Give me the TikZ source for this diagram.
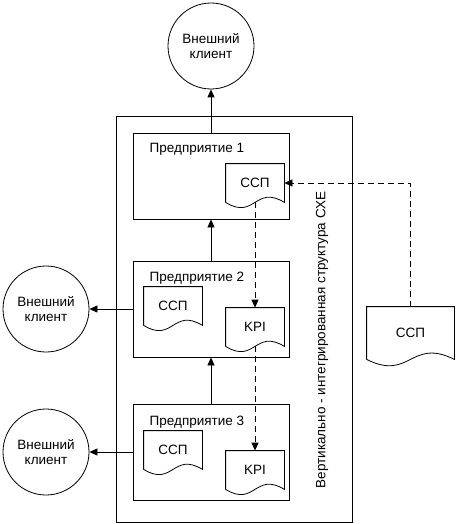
\documentclass[tikz,border=0pt]{standalone}
\usepackage{fontspec}
\setmainfont{Liberation Sans}
\usetikzlibrary{arrows.meta}

\newcommand\sheetoutline[2][18pt]{%
  \draw (#2.south west) -- (#2.north west) -- (#2.north east) -- (#2.south east)
  .. controls ([yshift=#1]#2.south) and ([yshift=-#1]#2.south) .. (#2.south west);
}

\tikzset{
  every node/.style={font=\fontsize{13.5}{15.5}\selectfont},
  client/.style={draw, circle, minimum size=86pt, inner sep=0pt, align=center},
  firm/.style={draw, rectangle, minimum width=156pt, inner sep=0pt},
  sheet/.style={rectangle, minimum width=58pt, minimum height=38pt, inner sep=0pt},
  flow/.style={-{Triangle[length=8pt,width=7pt]}},
  dataflow/.style={flow, dash pattern=on 6pt off 4pt},
}

\begin{document}
\begin{tikzpicture}[x=1pt, y=-1pt, line width=0.8pt]
    \useasboundingbox (0,0) rectangle (458,524);

    \node[draw, minimum width=236pt, minimum height=406pt, inner sep=0pt] (cxe) at (234,319) {};
    \node[rotate=90] (cxe label) at (322,340) {Вертикально - интегрированная структура СХЕ};

    \node[client] (ext1) at (211,46) {Внешний\\клиент};
    \node[client] (ext2) at (46,309) {Внешний\\клиент};
    \node[client] (ext3) at (46,452) {Внешний\\клиент};

    \node[firm, minimum height=86pt] (ent1) at (211,176) {};
    \node[firm, minimum height=96pt] (ent2) at (211,309) {};
    \node[firm, minimum height=96pt] (ent3) at (211,452) {};

    \node[anchor=west] (ent1 label) at (146,149) {Предприятие 1};
    \node[anchor=west] (ent2 label) at (146,278) {Предприятие 2};
    \node[anchor=west] (ent3 label) at (146,422) {Предприятие 3};

    \node[sheet] (ssp1) at (255,183) {ССП};
    \node[sheet] (ssp2) at (173,306) {ССП};
    \node[sheet] (kpi2) at (255,327) {KPI};
    \node[sheet] (ssp3) at (173,450) {ССП};
    \node[sheet] (kpi3) at (255,470) {KPI};
    \node[sheet, minimum width=87pt, minimum height=52pt] (sspR) at (410.5,333) {ССП};

    \sheetoutline{ssp1}
    \sheetoutline{ssp2}
    \sheetoutline{kpi2}
    \sheetoutline{ssp3}
    \sheetoutline{kpi3}
    \sheetoutline[22pt]{sspR}

    \draw[flow] (ent1.north) -- (ext1.south);
    \draw[flow] (ent2.north) -- (ent1.south);
    \draw[flow] (ent3.north) -- (ent2.south);
    \draw[flow] (ent2.west) -- (ext2.east);
    \draw[flow] (ent3.west) -- (ext3.east);

    \draw[dataflow] (ssp1.south) -- (kpi2.north);
    \draw[dataflow] (kpi2.south) -- (kpi3.north);
    \draw[dataflow] (sspR.north) |- (ssp1.east);

\end{tikzpicture}
\end{document}
